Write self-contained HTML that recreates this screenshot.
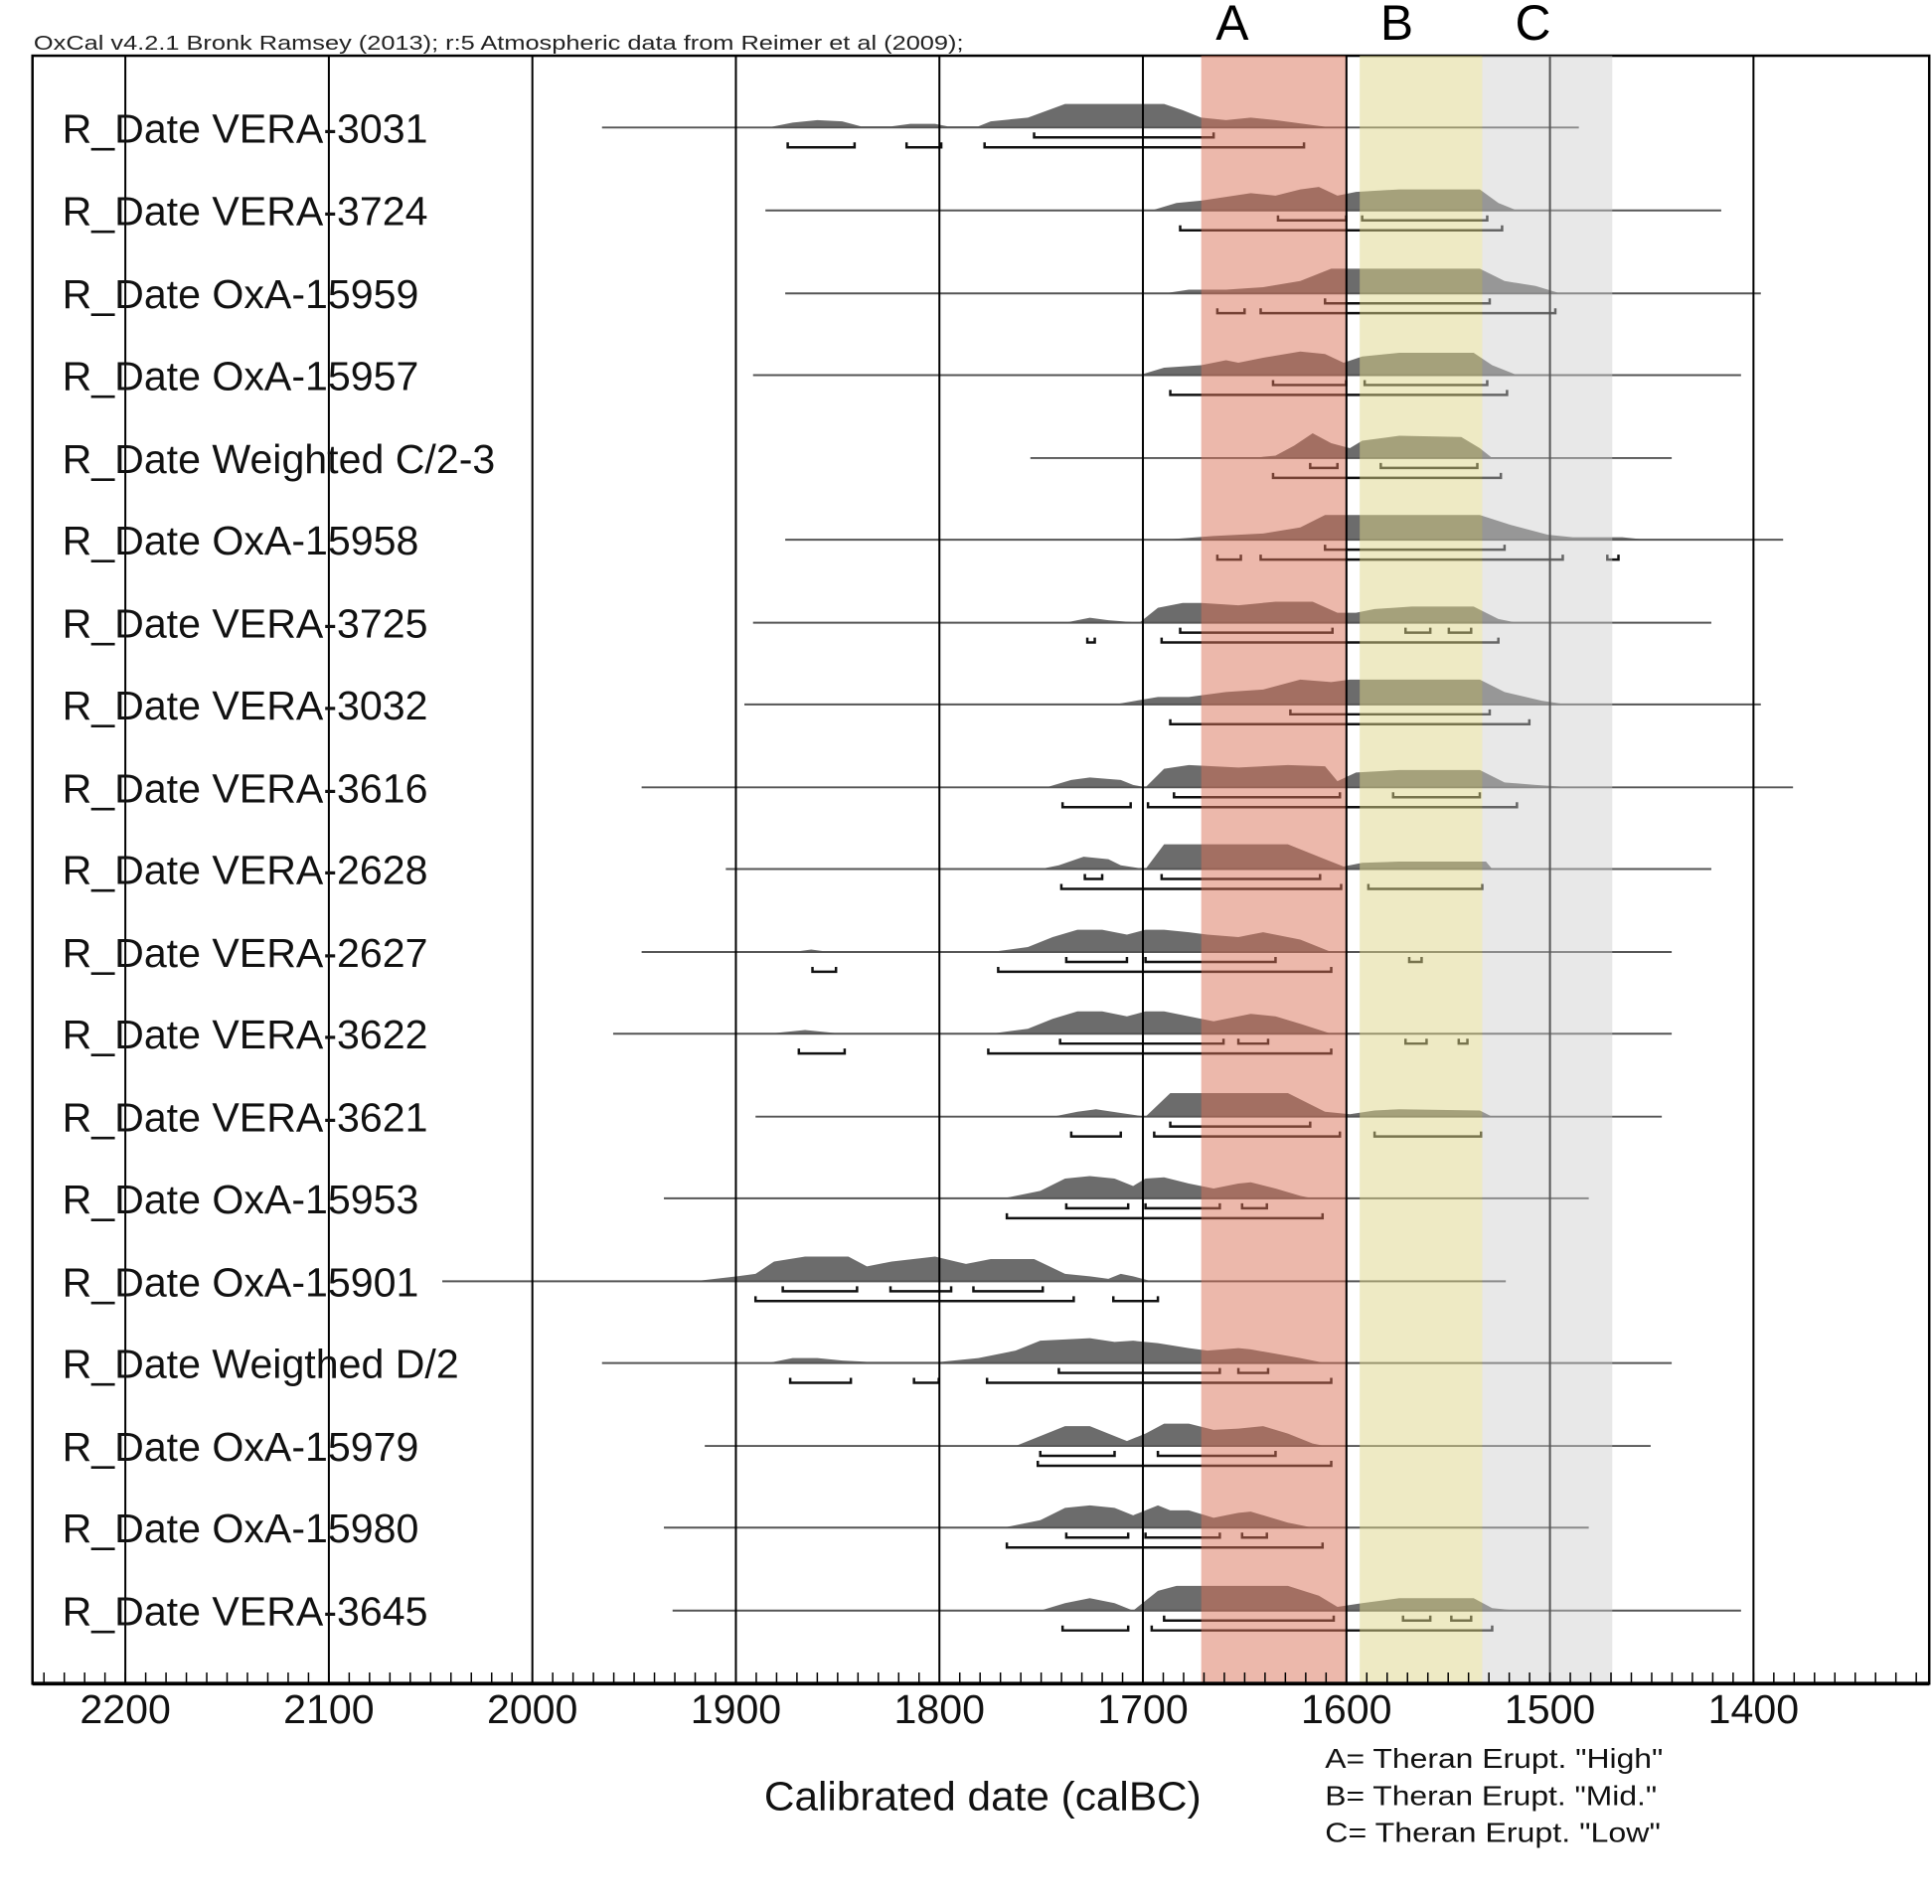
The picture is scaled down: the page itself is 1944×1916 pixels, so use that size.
<!DOCTYPE html>
<html><head><meta charset="utf-8"><style>
html,body{margin:0;padding:0;background:#fff}
svg{display:block}
text{font-family:"Liberation Sans",sans-serif}
</style></head><body>
<svg id="s" width="1944" height="1916" viewBox="0 0 1560 1538" xmlns="http://www.w3.org/2000/svg">
<rect x="0" y="0" width="1560" height="1538" fill="#fff"/>
<text x="27" y="40" font-size="16" textLength="751" lengthAdjust="spacingAndGlyphs" fill="#222">OxCal v4.2.1 Bronk Ramsey (2013); r:5 Atmospheric data from Reimer et al (2009);</text>
<rect x="26" y="45" width="1532" height="1315" fill="none" stroke="#000" stroke-width="2"/>
<g id="dist"></g>
<rect x="970" y="45" width="118" height="1315" fill="rgb(217,113,87)" fill-opacity="0.5"/>
<rect x="1098" y="45" width="99" height="1315" fill="rgb(221,213,137)" fill-opacity="0.5"/>
<rect x="1197" y="45" width="105" height="1315" fill="rgb(205,205,205)" fill-opacity="0.45"/>
<g id="grid"></g>
<g id="labels" font-size="33" fill="#111"></g>
<text x="995" y="32" font-size="40" text-anchor="middle" font-family="DejaVu Sans, sans-serif">A</text>
<text x="1128" y="32" font-size="40" text-anchor="middle" font-family="DejaVu Sans, sans-serif">B</text>
<text x="1238" y="32" font-size="40" text-anchor="middle" font-family="DejaVu Sans, sans-serif">C</text>
<text x="617" y="1462" font-size="33" textLength="353" lengthAdjust="spacingAndGlyphs" fill="#111">Calibrated date (calBC)</text>
<g font-family="DejaVu Sans, sans-serif" font-size="22" fill="#111">
<text x="1070" y="1428" textLength="273" lengthAdjust="spacingAndGlyphs">A= Theran Erupt. "High"</text>
<text x="1070" y="1458" textLength="268" lengthAdjust="spacingAndGlyphs">B= Theran Erupt. "Mid."</text>
<text x="1070" y="1488" textLength="271" lengthAdjust="spacingAndGlyphs">C= Theran Erupt. "Low"</text>
</g>
</svg>
<script>
var NS="http://www.w3.org/2000/svg";
function el(p,t,a,txt){var e=document.createElementNS(NS,t);for(var k in a)e.setAttribute(k,a[k]);if(txt)e.textContent=txt;p.appendChild(e);return e;}
var rows=[
["VERA-3031",103,[486,1275],[[620,0],[640,4],[660,6],[680,5],[695,1],[720,1],[735,3],[755,3],[765,1],[790,1],[800,5],[830,8],[860,19],[940,19],[955,14],[970,8],[990,6],[1010,8],[1030,6],[1060,2],[1075,0]],[[835,980]],[[636,690],[732,760],[795,1053]]],
["VERA-3724",170,[618,1390],[[930,0],[950,6],[970,8],[990,11],[1010,14],[1030,12],[1050,17],[1065,19],[1080,12],[1095,15],[1130,17],[1160,17],[1195,17],[1210,6],[1225,0]],[[1032,1087],[1100,1201]],[[953,1213]]],
["OxA-15959",237,[634,1422],[[940,0],[960,3],[990,3],[1020,5],[1050,10],[1075,20],[1195,20],[1215,10],[1240,6],[1260,0]],[[1070,1203]],[[983,1005],[1018,1256]]],
["OxA-15957",303,[608,1406],[[920,0],[940,6],[970,8],[990,12],[1000,10],[1020,14],[1050,19],[1070,17],[1085,10],[1100,15],[1130,18],[1190,18],[1205,8],[1225,0]],[[1028,1087],[1102,1201]],[[945,1217]]],
["Weighted C/2-3",370,[832,1350],[[1010,0],[1030,2],[1045,10],[1060,20],[1075,12],[1090,8],[1100,14],[1130,18],[1180,17],[1195,8],[1205,0]],[[1058,1080],[1115,1193]],[[1028,1212]]],
["OxA-15958",436,[634,1440],[[940,0],[980,3],[1020,5],[1050,10],[1070,20],[1195,20],[1220,12],[1250,4],[1270,2],[1310,2],[1330,0]],[[1070,1215]],[[983,1002],[1018,1262],[1298,1307]]],
["VERA-3725",503,[608,1382],[[860,0],[880,4],[895,2],[920,0],[935,12],[955,16],[970,16],[1000,14],[1030,17],[1060,17],[1080,8],[1095,8],[1110,11],[1140,13],[1190,13],[1210,3],[1225,0]],[[953,1076],[1135,1155],[1170,1188]],[[878,884],[938,1210]]],
["VERA-3032",569,[601,1422],[[900,0],[935,6],[960,6],[990,10],[1020,12],[1050,20],[1075,18],[1090,20],[1195,20],[1215,10],[1245,3],[1265,0]],[[1042,1203]],[[945,1235]]],
["VERA-3616",636,[518,1448],[[845,0],[865,6],[880,8],[905,6],[915,2],[925,0],[940,15],[960,18],[1000,16],[1040,18],[1070,17],[1080,5],[1095,12],[1130,14],[1195,14],[1215,4],[1240,2],[1270,0]],[[948,1082],[1125,1195]],[[858,913],[927,1225]]],
["VERA-2628",702,[586,1382],[[840,0],[855,3],[875,10],[895,8],[905,3],[925,0],[940,20],[1040,20],[1070,8],[1085,2],[1100,5],[1130,6],[1200,6],[1205,0]],[[876,890],[938,1066]],[[857,1083],[1105,1197]]],
["VERA-2627",769,[518,1350],[[640,0],[655,2],[670,0],[800,0],[830,4],[850,12],[870,18],[890,18],[910,14],[925,18],[940,18],[960,16],[975,14],[1000,12],[1010,14],[1020,16],[1050,10],[1075,0]],[[861,910],[925,1030],[1138,1148]],[[656,675],[806,1075]]],
["VERA-3622",835,[495,1350],[[620,0],[650,3],[680,0],[800,0],[830,4],[850,12],[870,18],[890,18],[910,14],[925,18],[940,18],[960,14],[980,10],[1000,14],[1010,16],[1030,14],[1050,8],[1075,0]],[[856,988],[1000,1024],[1135,1152],[1178,1185]],[[645,682],[798,1075]]],
["VERA-3621",902,[610,1342],[[850,0],[870,4],[885,6],[905,3],[925,0],[945,19],[1040,19],[1070,4],[1090,2],[1110,5],[1130,6],[1195,5],[1205,0]],[[945,1058]],[[865,905],[932,1082],[1110,1196]]],
["OxA-15953",968,[536,1283],[[810,0],[840,6],[860,16],[880,18],[900,16],[915,10],[925,16],[940,17],[960,12],[980,8],[1000,12],[1010,13],[1030,8],[1050,2],[1060,0]],[[861,911],[925,985],[1003,1023]],[[813,1068]]],
["OxA-15901",1035,[357,1216],[[560,0],[595,4],[610,6],[625,16],[650,20],[685,20],[700,12],[720,16],[755,20],[780,14],[800,18],[835,18],[860,6],[880,4],[895,2],[905,6],[915,4],[930,0]],[[632,692],[719,768],[786,842]],[[610,867],[899,935]]],
["Weigthed D/2",1101,[486,1350],[[620,0],[640,4],[660,4],[680,2],[700,1],[760,1],[790,4],[820,10],[840,18],[880,20],[900,17],[915,18],[935,16],[960,12],[975,10],[1000,12],[1010,11],[1050,4],[1070,0]],[[855,985],[1000,1024]],[[638,687],[738,758],[797,1075]]],
["OxA-15979",1168,[569,1333],[[820,0],[840,8],[860,16],[880,16],[895,10],[910,4],[925,10],[940,18],[960,18],[980,13],[1000,14],[1020,16],[1040,10],[1060,2],[1070,0]],[[840,900],[935,1030]],[[838,1075]]],
["OxA-15980",1234,[536,1283],[[810,0],[840,6],[860,16],[880,18],[900,16],[915,10],[935,18],[945,14],[960,14],[980,8],[1000,12],[1010,13],[1040,4],[1060,0]],[[861,911],[925,985],[1003,1023]],[[813,1068]]],
["VERA-3645",1301,[543,1406],[[840,0],[860,6],[880,10],[900,6],[915,0],[935,16],[950,20],[1040,20],[1065,12],[1080,3],[1100,6],[1130,10],[1190,10],[1205,2],[1225,0]],[[940,1077],[1133,1155],[1172,1188]],[[858,911],[930,1205]]]
];
var d=document.getElementById("dist"),lab=document.getElementById("labels"),g=document.getElementById("grid");
rows.forEach(function(r){
 var y=r[1];
 var pts=r[3].map(function(p){return p[0]+","+(y-p[1]*1.0);}).join(" ");
 el(d,"polygon",{points:pts,fill:"#6c6c6c"});
 el(d,"line",{x1:r[2][0],x2:r[2][1],y1:y,y2:y,stroke:"#555","stroke-width":1.6});
 [[r[4],8],[r[5],16]].forEach(function(b){b[0].forEach(function(s){
  var yy=y+b[1];
  el(d,"path",{d:"M"+s[0]+","+(yy-4)+"V"+yy+"H"+s[1]+"V"+(yy-4),fill:"none",stroke:"#111","stroke-width":2});
 });});
 el(lab,"text",{x:50,y:y+12},"R_Date "+r[0]);
});
function X(yr){return 101+(2200-yr)*1.6438;}
[2200,2100,2000,1900,1800,1700,1600,1500,1400].forEach(function(yr){
 var x=X(yr);
 el(g,"line",{x1:x,x2:x,y1:45,y2:1360,stroke:yr==1500?"#555":"#000","stroke-width":1.6});
 el(g,"text",{x:x,y:1392,"font-size":33,"text-anchor":"middle",fill:"#111"},""+yr);
});
for(var yr=2240;yr>=1310;yr-=10){var x=X(yr);if(x<27||x>1557)continue;
 el(g,"line",{x1:x,x2:x,y1:1351,y2:1360,stroke:"#000","stroke-width":1.2});}
el(g,"line",{x1:26,x2:1558,y1:1360,y2:1360,stroke:"#000","stroke-width":3});
</script>
</body></html>
